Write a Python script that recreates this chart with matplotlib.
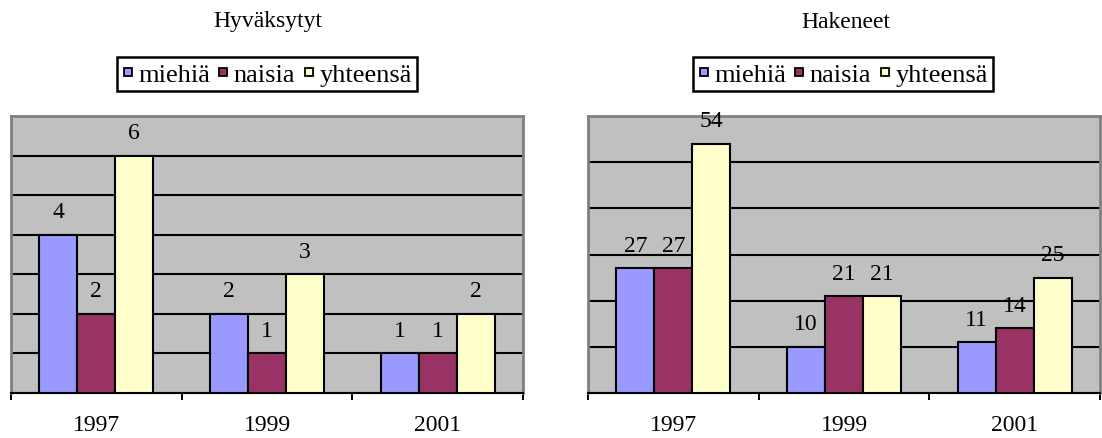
import matplotlib
matplotlib.use("Agg")
import matplotlib.pyplot as plt
from matplotlib.lines import Line2D

plt.rcParams['font.family'] = ['Liberation Serif', 'DejaVu Serif']

years = ['1997', '1999', '2001']
series_names = ['miehiä', 'naisia', 'yhteensä']
colors = ['#9999FF', '#993366', '#FFFFCC']

hyvaksytyt_miehia = [4, 2, 1]
hyvaksytyt_naisia = [2, 1, 1]
hyvaksytyt_yhteensa = [6, 3, 2]

hakeneet_miehia = [27, 10, 11]
hakeneet_naisia = [27, 21, 14]
hakeneet_yhteensa = [54, 21, 25]

W, H = 1102, 439
fig = plt.figure(figsize=(W / 100, H / 100), dpi=100)


def rect(x0, y0, x1, y1):
    return [x0 / W, 1 - y1 / H, (x1 - x0) / W, (y1 - y0) / H]


def panel(box, title, title_xy, legend_xy, data, ymax, step):
    ax = fig.add_axes(rect(*box))
    ax.set_facecolor('#C0C0C0')
    w = 1 / 4.5
    for k, (vals, c) in enumerate(zip(data, colors)):
        xs = [i + (k - 1) * w for i in range(len(years))]
        ax.bar(xs, vals, width=w, color=c, edgecolor='black', linewidth=1.5, zorder=3)
        for x, v in zip(xs, vals):
            ax.annotate(str(v), (x, v), xytext=(0, 16.5), textcoords='offset points',
                        ha='center', va='center', fontsize=17, zorder=5,
                        annotation_clip=False)
    ax.set_xlim(-0.5, len(years) - 0.5)
    ax.set_ylim(0, ymax)
    ax.set_yticks(range(0, ymax + 1, step))
    ax.yaxis.grid(True, color='black', linewidth=1.5)
    ax.set_axisbelow(True)
    ax.tick_params(axis='y', length=0, labelleft=False)
    ax.set_xticks([i - 0.5 for i in range(len(years) + 1)])
    ax.set_xticklabels([])
    ax.set_xticks(range(len(years)), minor=True)
    ax.set_xticklabels(years, minor=True, fontsize=17)
    ax.tick_params(axis='x', which='major', direction='out', length=5, width=1.4, color='black')
    ax.tick_params(axis='x', which='minor', length=0, pad=15)
    for s in ['top', 'left', 'right']:
        ax.spines[s].set_color('#808080')
        ax.spines[s].set_linewidth(2)
    ax.spines['bottom'].set_color('black')
    ax.spines['bottom'].set_linewidth(1.5)
    fig.text(title_xy[0] / W, 1 - title_xy[1] / H, title, ha='center', va='center', fontsize=17)
    handles = [Line2D([], [], marker='s', ls='none', markerfacecolor=c, markeredgecolor='black',
                      markersize=5.5, markeredgewidth=1.3) for c in colors]
    leg = fig.legend(handles, series_names, loc='center',
                     bbox_to_anchor=(legend_xy[0] / W, 1 - legend_xy[1] / H),
                     ncol=3, prop={'size': 19}, handlelength=0.4, handletextpad=0.2,
                     columnspacing=0.3, borderpad=0.2, borderaxespad=0, fancybox=False,
                     framealpha=1, edgecolor='black')
    leg.get_frame().set_linewidth(1.8)
    return ax


panel((11, 117, 523, 394), 'Hyväksytyt', (268, 22), (267, 75),
      [hyvaksytyt_miehia, hyvaksytyt_naisia, hyvaksytyt_yhteensa], 7, 1)
panel((588, 117, 1100, 394), 'Hakeneet', (846, 22), (843, 75),
      [hakeneet_miehia, hakeneet_naisia, hakeneet_yhteensa], 60, 10)

fig.savefig('out.png', dpi=100)
